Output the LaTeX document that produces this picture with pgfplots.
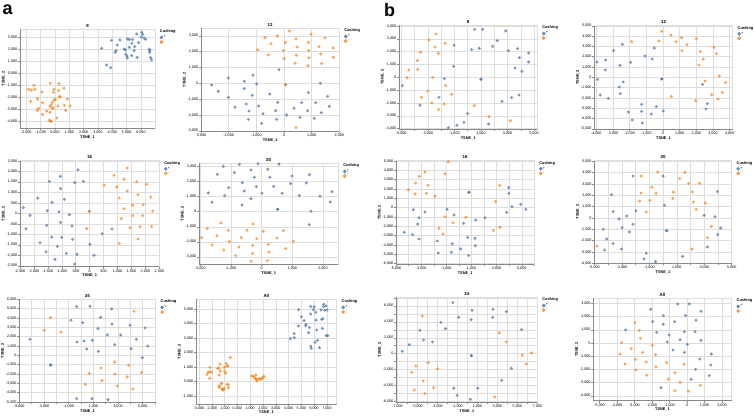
\documentclass[border=0pt]{standalone}
\usepackage{fontspec}
\setmainfont{Liberation Sans}
\usepackage{pgfplots}
\pgfplotsset{compat=1.18}
\definecolor{vblue}{HTML}{4C78A8}
\definecolor{vorange}{HTML}{F58518}
\definecolor{vgrid}{HTML}{DDDDDD}
\definecolor{vdomain}{HTML}{888888}
\newcommand{\tickfont}{\fontsize{3.7bp}{4.2bp}\selectfont}
\newcommand{\labfont}{\fontsize{3.9bp}{4.4bp}\selectfont\bfseries}
\newcommand{\titfont}{\fontsize{4.4bp}{5bp}\selectfont\bfseries}
\pgfplotsset{
  vega/.style={
    scale only axis, anchor=south west, clip=false,
    axis line style={vgrid, line width=0.45bp},
    grid=major, major grid style={vgrid, line width=0.45bp},
    tick align=outside, tick pos=left, major tick length=2bp,
    every tick/.style={vdomain, line width=0.45bp},
    tick label style={font=\tickfont, inner sep=0.6bp},
    /pgf/number format/assume math mode=true,
    scaled ticks=false,
    label style={font=\labfont, inner sep=0.8bp},
    xlabel={TSNE\_1}, ylabel={TSNE\_2},
    every axis title/.style={at={(0.5,1)}, anchor=south, yshift=1.5bp, font=\titfont, inner sep=0.5bp},
    legend style={at={(1,1)}, anchor=north west, xshift=4.5bp, draw=none, fill=none,
      inner sep=0pt, font=\tickfont, row sep=0.6bp, nodes={inner sep=0.4bp}},
    legend cell align=left,
    after end axis/.code={\draw[vdomain, line width=0.45bp] (rel axis cs:0,1) -- (rel axis cs:0,0) -- (rel axis cs:1,0);},
  },
  thou/.style={/pgf/number format/fixed, /pgf/number format/precision=0, /pgf/number format/1000 sep={,}},
  dec/.style={/pgf/number format/fixed, /pgf/number format/fixed zerofill, /pgf/number format/precision=3},
  bp/.style={only marks, mark=*, mark size=1.65bp, color=vblue, mark options={draw opacity=0, fill opacity=0.75}, forget plot},
  op/.style={only marks, mark=*, mark size=1.65bp, color=vorange, mark options={draw opacity=0, fill opacity=0.75}, forget plot},
}
\newcommand{\vlegend}{%
 \addlegendimage{legend image code/.code={}}\addlegendentry{\hspace*{-3.6bp}\labfont Cushing}%
 \addlegendimage{legend image code/.code={\fill[vblue,fill opacity=0.75] (1.5bp,0) circle[radius=1.55bp];}}\addlegendentry{+}%
 \addlegendimage{legend image code/.code={\fill[vorange,fill opacity=0.75] (1.5bp,0) circle[radius=1.55bp];}}\addlegendentry{-}%
}
\begin{document}
\begin{tikzpicture}
\path[use as bounding box] (0,0) rectangle (754bp,-416bp);
\node[anchor=base west, inner sep=0pt, font=\fontsize{18bp}{18bp}\selectfont\bfseries] at (2.5bp,-14bp) {a};
\node[anchor=base west, inner sep=0pt, font=\fontsize{18bp}{18bp}\selectfont\bfseries] at (384bp,-16bp) {b};

% ---------- a : 8
\begin{axis}[vega, dec, at={(20bp,-128.3bp)}, width=135bp, height=99bp, title={8},
  xmin=-2.44, xmax=6.98, ymin=-4.58, ymax=3.67, xtick={-2,-1,...,7}, ytick={-4,-3,...,3}]
\addplot[bp] coordinates {(3.26,2.08)(3.95,2.75)(4.53,2.78)(4.35,2.36)(4.26,1.89)(4.19,1.75)(5.07,2.86)(5.19,2.81)(5.42,2.81)(5.37,2.5)(5.70,3.28)(6.05,3.42)(6.12,3.25)(6.02,3.03)(6.21,2.94)(6.33,2.83)(5.84,2.56)(5.56,2.22)(4.84,2.03)(4.91,1.94)(4.95,1.58)(5.02,1.44)(5.05,1.28)(5.35,1.47)(5.53,1.89)(5.74,1.33)(6.58,2.0)(6.63,1.89)(6.58,1.75)(6.67,1.31)(6.74,1.14)(3.60,0.69)(3.88,0.47)(5.19,2.17)};
\addplot[op] coordinates {(-1.84,-1.33)(-1.63,-1.39)(-1.40,-1.33)(-1.47,-1.0)(-1.70,-2.33)(-1.21,-2.14)(-0.91,-1.56)(-0.86,-2.44)(-1.14,-2.92)(-1.23,-3.08)(-0.86,-3.42)(-0.58,-3.14)(-0.33,-2.75)(-0.33,-0.83)(-0.07,-1.33)(-0.12,-1.58)(-0.19,-2.42)(-0.07,-2.22)(0.28,-0.86)(0.26,-1.44)(0.63,-1.25)(0.30,-1.94)(0.37,-1.97)(0.02,-2.17)(0.21,-2.72)(0.65,-2.67)(0.88,-2.14)(1.05,-2.72)(0.74,-3.08)(-0.19,-2.94)(-0.12,-2.86)(-0.40,-3.92)(-0.30,-3.97)(-0.26,-4.0)(0.12,-3.72)(-0.35,-3.25)(-0.28,-2.64)};
\vlegend
\end{axis}

% ---------- a : 12
\begin{axis}[vega, thou, at={(201bp,-131bp)}, width=138.3bp, height=102.7bp, title={12},
  xmin=-3000, xmax=2000, ymin=-3010, ymax=3473, xtick={-3000,-2000,...,2000}, ytick={-3000,-2000,...,3000}]
\addplot[bp] coordinates {(-2615,-105)(-2374,-505)(-2012,337)(-2012,-884)(-1771,-1516)(-1434,126)(-1434,-337)(-1121,505)(-988,-42)(-1145,-758)(-1362,-1305)(-1265,-1747)(-916,-1431)(-1289,-2273)(-759,-1916)(-807,-2526)(-518,-674)(-229,-1200)(-301,-1726)(-265,-2273)(-181,863)(60,-84)(96,-2000)(362,-1579)(578,-2147)(639,-1221)(880,-589)(856,-1726)(1097,-2210)(1145,-1221)(1313,0)(1350,-1852)(1579,-821)(1639,-1452)};
\addplot[op] coordinates {(-952,2105)(-687,2884)(-470,2505)(-566,1789)(-241,2989)(193,3305)(48,2568)(-24,2063)(0,1558)(434,2800)(482,2294)(446,1768)(398,1263)(880,2568)(976,3094)(892,2063)(904,1621)(868,1116)(1265,2316)(1326,1852)(1362,1242)(1482,2863)(1783,2231)(1783,1642)(434,-2800)(60,-84)};
\vlegend
\end{axis}

% ---------- a : 16
\begin{axis}[vega, thou, at={(20bp,-266.7bp)}, width=139.3bp, height=106bp, title={16},
  xmin=-2500, xmax=2500, ymin=-2544, ymax=2512, xtick={-2500,-2000,...,2500}, ytick={-2500,-2000,...,2500}]
\addplot[bp] coordinates {(-2380,270)(-2141,-95)(-2284,-731)(-1866,731)(-1782,-1399)(-1567,-1829)(-1519,127)(-1543,-572)(-1447,1526)(-1351,525)(-1244,-2194)(-1363,-1129)(-1160,-1574)(-1100,80)(-1041,-429)(-1052,1765)(-1041,1177)(-1005,-1145)(-909,668)(-730,-64)(-634,-604)(-610,-1240)(-538,1463)(-419,2083)(-837,-1908)(-538,-2417)(-454,-1956)(-227,1526)(12,-1479)(155,-2003)(454,-970)(801,-747)(-12,95)};
\addplot[op] coordinates {(-108,-731)(526,1352)(873,1813)(969,1256)(1064,731)(1232,1622)(1351,2162)(1351,1065)(1136,-254)(1232,223)(1543,398)(1543,-111)(1686,1511)(1734,890)(1926,413)(1902,-111)(2045,1383)(2189,779)(2260,111)(1447,-684)(1806,-636)(2225,-636)(1734,-1224)(1064,-1431)(-12,95)};
\vlegend
\end{axis}

% ---------- a : 20
\begin{axis}[vega, thou, at={(199bp,-264bp)}, width=139.3bp, height=100.7bp, title={20},
  xmin=-2044, xmax=2500, ymin=-3470, ymax=3205, xtick={-2000,-1000,...,2000}, ytick={-3000,-2000,...,3000}]
\addplot[bp] coordinates {(-1739,1238)(-1620,619)(-1446,2475)(-1250,3006)(-1207,1061)(-1076,1591)(-891,2586)(-728,3138)(-630,1923)(-641,442)(-565,1370)(-348,2763)(-239,2276)(-174,1658)(-348,862)(-120,3170)(11,1216)(196,2807)(272,2276)(391,1680)(565,3150)(663,1216)(989,2365)(946,1856)(1228,1061)(1457,1901)(1554,2453)(1902,1017)(1609,22)(1554,-862)(2239,641)(2294,1326)(522,155)(522,155)};
\addplot[op] coordinates {(-1957,-1724)(-1772,-1127)(-1609,-2210)(-1457,-1591)(-1337,-751)(-1239,-2542)(-1087,-1238)(-1054,-1989)(-848,-2917)(-739,-2343)(-663,-1724)(-478,-1238)(-283,-818)(-293,-2232)(-293,-2763)(-348,-3293)(-163,-1790)(54,-1304)(217,-2188)(239,-2696)(185,-3249)(500,-1746)(707,-1260)(783,-2453)(1033,-1967)};
\vlegend
\end{axis}

% ---------- a : 24
\begin{axis}[vega, thou, at={(19.3bp,-402.3bp)}, width=136.4bp, height=103bp, title={24},
  xmin=-5000, xmax=6055, ymin=-5034, ymax=5998, xtick={-5000,-4000,...,6000},
  xticklabels={{-5,000},{},{-3,000},{},{-1,000},{},{1,000},{},{3,000},{},{5,000},{}},
  ytick={-5000,-4000,...,6000}]
\addplot[bp] coordinates {(-4136,1714)(-2460,-1035)(-2460,-1035)(-351,5212)(-811,3749)(-324,1428)(243,1535)(135,3499)(730,5248)(460,678)(919,1607)(1406,428)(1378,2856)(1595,4070)(2135,2178)(2487,4962)(2514,3356)(2730,1142)(3217,2178)(3973,3213)(4487,1714)(4055,714)(5190,2927)(4973,-250)(5406,1000)(-351,-4641)(892,-4641)(2189,-4748)};
\addplot[op] coordinates {(-2460,4034)(-2973,2678)(-1622,2463)(4298,4712)(2730,-714)(1622,-1357)(676,-1928)(1703,-2713)(2757,-1999)(3865,-1071)(3757,-2321)(4919,-1856)(351,-3106)(2946,-3284)(4190,-3606)};
\vlegend
\end{axis}

% ---------- a : All
\begin{axis}[vega, dec, at={(196bp,-404bp)}, width=140.7bp, height=104.7bp, title={All},
  xmin=-3.23, xmax=7.76, ymin=-1.53, ymax=5.65, xtick={-3,-2,...,7}, ytick={-1,0,...,5}]
\addplot[bp] coordinates {(4.14,2.95)(4.45,3.02)(4.43,3.30)(4.77,3.82)(4.79,4.94)(5.0,4.44)(5.21,4.19)(5.36,3.94)(5.34,3.84)(5.63,3.71)(5.57,3.36)(5.73,5.15)(5.73,4.65)(5.94,4.94)(5.99,5.13)(6.12,4.76)(6.15,4.23)(6.20,3.55)(5.73,2.43)(5.78,2.29)(6.07,2.70)(6.25,2.84)(6.54,4.92)(6.59,4.26)(6.72,5.15)(6.74,5.31)(6.82,4.90)(6.67,4.32)(6.93,5.19)(6.93,3.16)(7.06,3.16)(6.41,2.33)(6.64,3.66)(7.01,4.92)};
\addplot[op] coordinates {(-2.37,0.50)(-2.27,0.66)(-2.14,0.66)(-2.14,0.98)(-2.03,0.66)(-2.16,0.23)(-1.54,0.92)(-1.43,0.92)(-1.35,1.21)(-1.33,0.73)(-1.41,0.46)(-1.02,0.98)(-0.99,0.71)(-0.86,1.26)(-0.83,1.08)(-0.73,1.08)(-0.55,1.67)(-0.91,0.57)(-1.22,-0.11)(-1.43,-0.30)(-1.41,-0.39)(-1.28,-0.16)(-1.17,-0.50)(-1.09,-0.57)(-1.02,-0.46)(-0.81,-0.18)(-0.70,-0.21)(-0.70,-0.41)(-1.20,-0.53)(1.12,0.39)(1.25,0.37)(1.33,0.30)(1.43,0.46)(1.46,0.21)(1.51,0.05)(1.64,0.16)(1.74,0.21)(1.85,0.16)(1.93,0.25)(2.03,0.30)(2.08,0.37)(1.43,0.18)};
\vlegend
\end{axis}

% ---------- b : 8
\begin{axis}[vega, thou, at={(399bp,-129bp)}, width=138.3bp, height=103.7bp, title={8},
  xmin=-5171, xmax=5246, ymin=-4030, ymax=4056, xtick={-5000,-4000,...,5000},
  xticklabels={{-5,000},{},{-3,000},{},{-1,000},{},{1,000},{},{3,000},{},{5,000}},
  ytick={-4000,-3000,...,4000}]
\addplot[bp] coordinates {(-4920,-650)(-3589,-2184)(-2159,-1560)(-1757,-104)(-1029,2496)(-1054,858)(-1456,-3926)(-803,-3744)(-276,-3510)(0,-2834)(301,2158)(879,2262)(1004,-156)(1004,-156)(527,3744)(1130,3744)(1883,2418)(2234,2860)(1581,-3640)(2861,3614)(3062,2080)(2585,-1872)(3313,-1586)(3564,728)(3765,2236)(3891,1534)(4091,468)(3865,-1378)(4593,1898)(4593,1196)};
\addplot[op] coordinates {(-4568,-26)(-4443,572)(-3790,1300)(-3765,624)(-3539,1950)(-3489,-1560)(-2912,2912)(-2711,-2002)(-2636,0)(-3012,-1066)(-2460,2366)(-2385,3380)(-2209,1872)(-2209,-2496)(-1757,-2080)(-1707,2652)(-1657,-624)(-1205,-1326)(502,-2210)(1606,-3068)(3213,-3380)};
\vlegend
\end{axis}

% ---------- b : 12
\begin{axis}[vega, thou, at={(594.3bp,-129bp)}, width=138.4bp, height=103.3bp, title={12},
  xmin=-4120, xmax=4180, ymin=-5007, ymax=5007, xtick={-4000,-3000,...,4000}, ytick={-5000,-4000,...,5000}]
\addplot[bp] coordinates {(-3960,1486)(-3920,-194)(-3760,-1712)(-3440,1680)(-3460,711)(-3280,-2035)(-2960,2584)(-2580,1163)(-2620,-937)(-2560,-1583)(-2440,3198)(-2380,-452)(-1940,1454)(-2080,-3359)(-1840,-4134)(-1280,-2616)(-1280,-3295)(-1240,-4425)(-1080,2067)(-700,-3553)(-640,1777)(-520,2842)(-400,-2842)(-80,-161)(-80,-161)(20,-3262)(2380,-678)(2660,-2552)(2580,-3069)};
\addplot[op] coordinates {(-1880,3456)(-240,3521)(-80,4457)(480,4102)(780,3456)(1120,3844)(1440,3165)(1140,2584)(2000,3747)(2240,2519)(2420,1777)(2160,1195)(3060,2907)(3200,2293)(2520,-355)(2920,-1680)(3380,129)(3560,-1486)(3760,-517)(3300,-2100)(1960,-2261)(500,-1841)};
\vlegend
\end{axis}

% ---------- b : 16
\begin{axis}[vega, thou, at={(396bp,-264bp)}, width=138.3bp, height=103.3bp, title={16},
  xmin=-5000, xmax=6000, ymin=-6033, ymax=5034, xtick={-5000,-4000,...,6000},
  xticklabels={{-5,000},{},{-3,000},{},{-1,000},{},{1,000},{},{3,000},{},{5,000},{}},
  ytick={-6000,-5000,...,5000}]
\addplot[bp] coordinates {(-4338,-2642)(-3676,-2892)(-3623,-214)(-3172,-1071)(-3278,-1749)(-3172,-3356)(-2695,-464)(-1715,-3570)(-1635,-4855)(-946,-179)(-390,-785)(-522,-3856)(-602,-4784)(140,-4427)(379,-1678)(697,-3177)(803,1642)(803,1642)(1280,-3284)(1333,-1321)(1306,-4070)(2075,-1071)(776,-5141)(3797,-500)(3983,1535)(3956,2142)(4221,107)(4910,357)(5334,-179)};
\addplot[op] coordinates {(-4020,1928)(-3437,2642)(-3464,1464)(-3146,3356)(-2695,3820)(-2457,2392)(-2589,1535)(-1900,1214)(-840,4927)(-1105,3641)(-1105,-964)(-1582,-2213)(-1264,-2820)(-469,-1607)(564,-1035)(2737,-2428)(2923,643)(3241,2392)(3267,-2106)};
\vlegend
\end{axis}

% ---------- b : 20
\begin{axis}[vega, thou, at={(594.3bp,-263.3bp)}, width=137.4bp, height=102.6bp, title={20},
  xmin=-5013, xmax=5000, ymin=-3998, ymax=5057, xtick={-5000,-4000,...,5000},
  xticklabels={{-5,000},{},{-3,000},{},{-1,000},{},{1,000},{},{3,000},{},{5,000}},
  ytick={-4000,-3000,...,5000}]
\addplot[bp] coordinates {(-4362,-1000)(-4266,-2822)(-4097,-1852)(-3760,2058)(-3639,559)(-3639,-2264)(-3205,-88)(-3037,-2734)(-2988,-853)(-2651,176)(-2458,-1235)(-2193,3704)(-2193,-559)(-1976,647)(-1229,-3116)(-1398,-3616)(-554,-3851)(0,3704)(96,1117)(265,-1117)(265,-1117)(1422,-3381)(2988,235)(3229,-2558)(3784,118)(3952,2323)(3977,-1470)(4193,-882)};
\addplot[op] coordinates {(-4820,-2470)(-1591,3704)(-1615,2205)(-1711,1499)(-1229,529)(-964,1558)(-819,2734)(-386,4057)(-506,2176)(699,1735)(747,2293)(1205,3469)(1591,4028)(1856,3058)(2145,2293)(2217,1411)(2410,764)(2651,3058)(3085,1323)(3519,-735)(3229,-1735)(2097,-2734)};
\vlegend
\end{axis}

% ---------- b : 24
\begin{axis}[vega, thou, at={(396.3bp,-402.3bp)}, width=141bp, height=105bp, title={24},
  xmin=-7126, xmax=7000, ymin=-6117, ymax=7081, xtick={-7000,-6000,...,7000},
  xticklabels={{-7,000},{},{-5,000},{},{-3,000},{},{-1,000},{},{1,000},{},{3,000},{},{5,000},{},{7,000}},
  ytick={-6000,-5000,...,7000},
  yticklabels={{-6,000},{},{-4,000},{},{-2,000},{},{0},{},{2,000},{},{4,000},{},{6,000},{}}]
\addplot[bp] coordinates {(-6527,293)(-5828,1131)(-4762,2933)(-4396,1718)(-3497,1467)(-2664,3939)(-2198,3143)(-1465,6411)(-866,4567)(366,4274)(466,5447)(2564,5573)(2531,4567)(3896,5279)(5428,3017)(-1365,-4358)(-1032,-5238)(300,-5740)(400,-251)(400,-251)(1032,-4358)(3430,-3352)(4396,-1844)};
\addplot[op] coordinates {(-4529,4735)(-5594,-2346)(-5162,-1550)(-3929,-1131)(-2997,-1886)(-4429,-3436)(-5328,-4567)(-4262,-5028)(-3397,-4274)(3197,2598)(3896,1467)(6427,84)(5495,-210)(5894,-1299)(2731,-5447)};
\vlegend
\end{axis}

% ---------- b : All
\begin{axis}[vega, thou, at={(593.3bp,-400.7bp)}, width=138.4bp, height=102.4bp, title={All},
  xmin=-5353, xmax=2553, ymin=-4377, ymax=3390, xtick={-5000,-4000,...,2000}, ytick={-4000,-3000,...,3000}]
\addplot[bp] coordinates {(-3505,987)(-2076,2555)(-1962,1619)(-1734,810)(-1353,2075)(-1353,1417)(-1029,607)(-1124,76)(-705,1619)(-533,2960)(-400,253)(-800,-531)(-152,860)(-76,2075)(19,-101)(-152,-708)(133,2960)(457,860)(514,1720)(800,2404)(724,-1214)(495,-1999)(229,-2758)(800,202)(1391,-835)(1353,-1670)(1276,-2479)(-1486,-3390)};
\addplot[op] coordinates {(-3734,25)(-3829,-835)(-3543,-1594)(-3181,-430)(-2972,1543)(-2953,-1240)(-2934,-2049)(-2724,936)(-2667,354)(-2534,-708)(-2324,-1442)(-2305,-2454)(-1981,-177)(-1791,-886)(-1772,-1822)(-1162,-1493)(-1067,-2732)(-686,-2252)(-400,-2985)(-171,-1619)(76,-3643)(762,-3213)(-686,-3618)};
\vlegend
\end{axis}
\end{tikzpicture}
\end{document}
